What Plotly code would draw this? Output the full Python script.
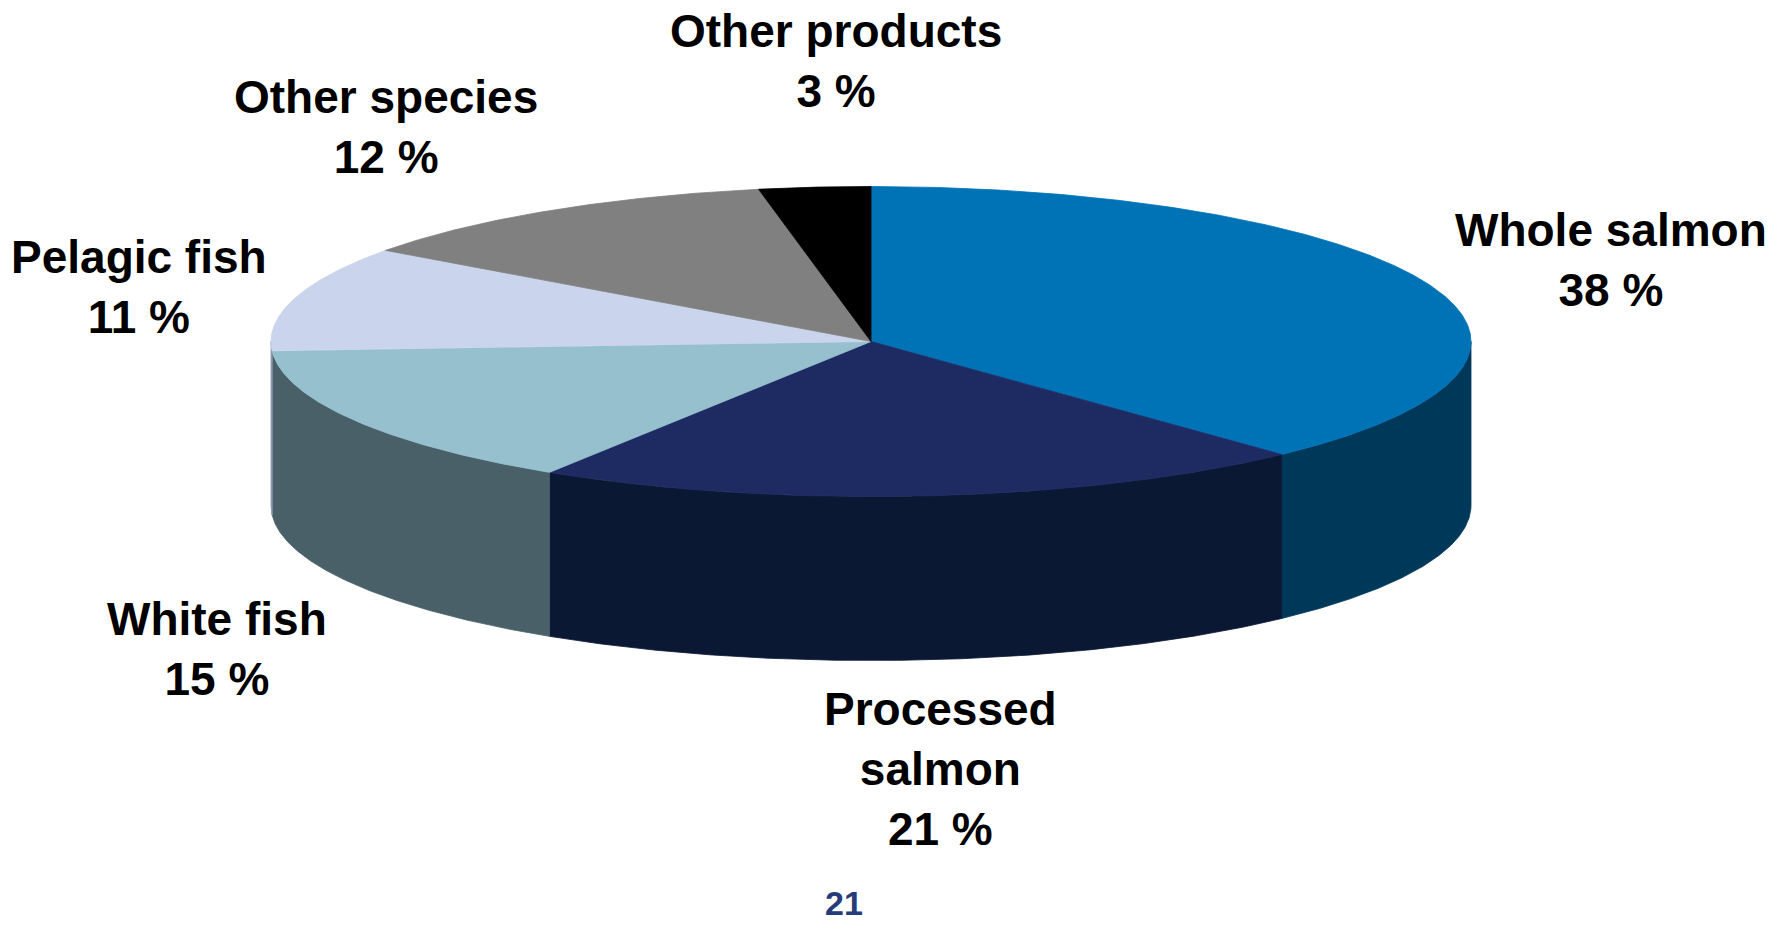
import numpy as np
import plotly.graph_objects as go

# ---- data ----
categories = ["Whole salmon", "Processed salmon", "White fish",
              "Pelagic fish", "Other species", "Other products"]
shares = [38, 21, 15, 11, 12, 3]
page_number = "21"

# ---- styles ----
top_colors = ["#0073B7", "#1E2B63", "#96C0CE", "#CAD4EC", "#808080", "#000000"]
side_colors = ["#00385A", "#0B1834", "#4A6068", "#8F98AE", "#555555", "#000000"]
label_breaks = {"Processed salmon": "Processed<br>salmon"}
label_pos = {  # label block centres in page pixels
    "Whole salmon": (1611, 260),
    "Processed salmon": (940, 769),
    "White fish": (217, 649),
    "Pelagic fish": (139, 287),
    "Other species": (386, 127),
    "Other products": (836, 61),
}

W, H = 1781, 925
CX, CY, RX, RY, DEPTH = 871, 341.5, 600, 155, 164


def ellipse(theta_deg, dy=0.0):
    t = np.radians(theta_deg)
    return CX + RX * np.sin(t), CY - RY * np.cos(t) + dy


fig = go.Figure()

total = float(sum(shares))
bounds = []
acc = 0.0
for s in shares:
    a1 = acc / total * 360.0
    acc += s
    a2 = acc / total * 360.0
    bounds.append((a1, a2))

# side walls (front half only: 90..270 degrees clockwise from top)
for (a1, a2), col in zip(bounds, side_colors):
    lo, hi = max(a1, 90.0), min(a2, 270.0)
    if hi <= lo:
        continue
    th = np.linspace(lo, hi, 200)
    xt, yt = ellipse(th)
    xb, yb = ellipse(th[::-1], DEPTH)
    xs = np.concatenate([xt, xb, xt[:1]])
    ys = np.concatenate([yt, yb, yt[:1]])
    fig.add_trace(go.Scatter(x=xs, y=ys, mode="lines", fill="toself",
                             fillcolor=col, line=dict(color=col, width=0.8),
                             hoverinfo="skip", showlegend=False))

# top faces
for (a1, a2), col, name in zip(bounds, top_colors, categories):
    th = np.linspace(a1, a2, max(int((a2 - a1) * 4), 10))
    xa, ya = ellipse(th)
    xs = np.concatenate([[CX], xa, [CX]])
    ys = np.concatenate([[CY], ya, [CY]])
    fig.add_trace(go.Scatter(x=xs, y=ys, mode="lines", fill="toself",
                             fillcolor=col, line=dict(color=col, width=0.8),
                             name=name, hoverinfo="name", showlegend=False))

font = dict(family="Liberation Sans, Arial, sans-serif", size=46,
            color="#000000", weight="bold")
for name, val in zip(categories, shares):
    x, y = label_pos[name]
    txt = f"{label_breaks.get(name, name)}<br>{val} %"
    fig.add_annotation(x=x, y=y, xref="x", yref="y", text=txt,
                       showarrow=False, xanchor="center", yanchor="middle",
                       align="center", font=font)

fig.add_annotation(x=844, y=903, xref="x", yref="y", text=page_number,
                   showarrow=False, xanchor="center", yanchor="middle",
                   font=dict(family="Liberation Sans, Arial, sans-serif",
                             size=34, color="#253C78", weight="bold"))

fig.update_layout(
    width=W, height=H, margin=dict(l=0, r=0, t=0, b=0),
    paper_bgcolor="white", plot_bgcolor="white",
    xaxis=dict(range=[0, W], visible=False, fixedrange=True),
    yaxis=dict(range=[H, 0], visible=False, fixedrange=True),
)

fig.write_html("out.html")
